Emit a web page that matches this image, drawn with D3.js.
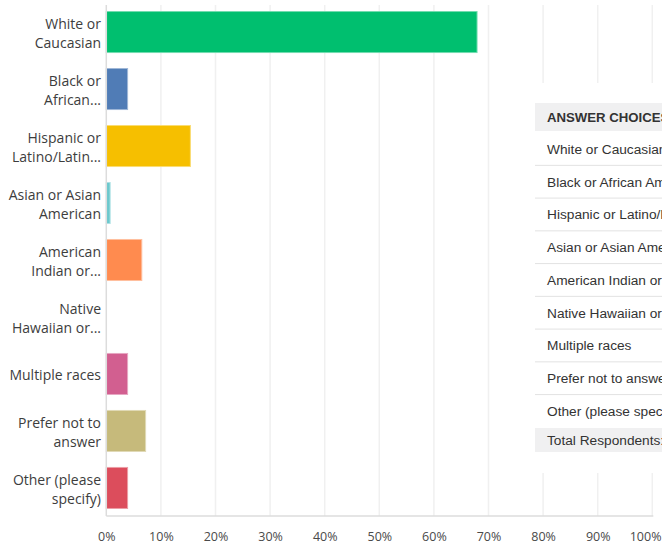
<!DOCTYPE html>
<html>
<head>
<meta charset="utf-8">
<script src="https://cdn.jsdelivr.net/npm/d3@7"></script>
<style>
  html, body { margin: 0; padding: 0; background: #fff; overflow: hidden; }
  svg { display: block; }
</style>
</head>
<body>
<svg id="chart" width="662" height="546"></svg>
<script>
// Answer choices (full wording, shown in the table)
const categories = [
  "White or Caucasian",
  "Black or African American",
  "Hispanic or Latino/Latina",
  "Asian or Asian American",
  "American Indian or Alaska Native",
  "Native Hawaiian or Pacific Islander",
  "Multiple races",
  "Prefer not to answer",
  "Other (please specify)"
];

// Shortened axis labels, one entry per line
const axisLabels = [
  ["White or", "Caucasian"],
  ["Black or", "African..."],
  ["Hispanic or", "Latino/Latin..."],
  ["Asian or Asian", "American"],
  ["American", "Indian or..."],
  ["Native", "Hawaiian or..."],
  ["Multiple races"],
  ["Prefer not to", "answer"],
  ["Other (please", "specify)"]
];

// Share of respondents, percent
const percents = [67.9, 3.9, 15.4, 0.7, 6.5, 0, 3.9, 7.2, 3.9];

const barColors = [
  "#00bf6f", "#507cb6", "#f6bf00", "#6bc8cd", "#ff8b4f",
  "#7d5e90", "#d25f90", "#c6ba7b", "#dc4d5c"
];

const xTicks = [0, 10, 20, 30, 40, 50, 60, 70, 80, 90, 100];
const tableHeader = "ANSWER CHOICES";
const totalLabel = "Total Respondents:";

const W = 662;
const svg = d3.select("#chart");

const x = d3.scaleLinear().domain([0, 100]).range([106.3, 652.3]);
const y = d3.scaleBand().domain(categories).range([2, 518])
  .paddingInner(0.28).paddingOuter(0.167);

const plotTop = 5, plotBottom = 516;

// vertical gridlines
svg.append("g").selectAll("line")
  .data(xTicks.slice(1))
  .join("line")
  .attr("x1", d => x(d)).attr("x2", d => x(d))
  .attr("y1", plotTop).attr("y2", plotBottom)
  .attr("stroke", "#f0f0f0").attr("stroke-width", 1.5);

// bars
svg.append("g").selectAll("rect")
  .data(categories.map((c, i) => ({ c, v: percents[i], color: barColors[i] })))
  .join("rect")
  .attr("x", x(0))
  .attr("y", d => y(d.c))
  .attr("width", d => Math.max(0, x(d.v) - x(0)))
  .attr("height", y.bandwidth())
  .attr("fill", d => d.color)
  .attr("stroke", d => d.v > 0 ? d3.interpolateRgb(d.color, "#fff")(0.45) : "none")
  .attr("stroke-width", 1);

// axis frame: left and bottom
svg.append("line")
  .attr("x1", x(0)).attr("x2", x(0))
  .attr("y1", plotTop).attr("y2", plotBottom)
  .attr("stroke", "#dcdcdc").attr("stroke-width", 1.5);
svg.append("line")
  .attr("x1", x(0)).attr("x2", x(100) + 1)
  .attr("y1", plotBottom).attr("y2", plotBottom)
  .attr("stroke", "#dcdcdc").attr("stroke-width", 1.5);

// category labels
const lab = svg.append("g")
  .attr("font-family", "'Open Sans', sans-serif")
  .attr("font-size", "14px")
  .attr("fill", "#3d3d3d")
  .attr("text-anchor", "end");
categories.forEach((c, i) => {
  const lines = axisLabels[i];
  const cy = y(c) + y.bandwidth() / 2 + 1.5;
  const lh = 18.5;
  const t = lab.append("text").attr("x", 101);
  lines.forEach((ln, j) => {
    t.append("tspan")
      .attr("x", 101)
      .attr("y", cy + (j - (lines.length - 1) / 2) * lh)
      .attr("dy", "0.35em")
      .text(ln);
  });
});

// x tick labels
const xAxis = d3.axisBottom(x).tickValues(xTicks).tickFormat(d => d + "%").tickSize(0).tickPadding(0);
const gx = svg.append("g").attr("transform", `translate(0, 537)`).call(xAxis);
gx.select(".domain").remove();
gx.selectAll("text")
  .attr("dy", "0.35em")
  .attr("font-family", "'Open Sans', sans-serif")
  .attr("font-size", "12.5px")
  .attr("fill", "#4a4a4a");
// keep the last tick label inside the frame
gx.selectAll(".tick").filter(d => d === 100).select("text")
  .attr("text-anchor", "end")
  .attr("x", W - 1 - x(100));

// summary table card
const card = svg.append("g");
card.append("rect")
  .attr("x", 520).attr("y", 83).attr("width", W - 520).attr("height", 390)
  .attr("fill", "#fff");

const tx = 535, textX = 547;
const headerY = 103, headerH = 28;
const rowTop = 132.6, rowH = 32.75;
const tableFont = "'Liberation Sans', Arial, sans-serif";

card.append("rect")
  .attr("x", tx).attr("y", headerY).attr("width", W - tx).attr("height", headerH)
  .attr("fill", "#f0f0f1");
card.append("text")
  .attr("x", textX).attr("y", headerY + headerH / 2).attr("dy", "0.35em")
  .attr("font-family", tableFont).attr("font-size", "13.2px").attr("font-weight", "bold")
  .attr("fill", "#333").text(tableHeader);

categories.forEach((c, i) => {
  const top = rowTop + i * rowH;
  card.append("text")
    .attr("x", textX).attr("y", top + rowH / 2).attr("dy", "0.35em")
    .attr("font-family", tableFont).attr("font-size", "13.7px")
    .attr("fill", "#333").text(c);
  if (i < categories.length - 1) {
    card.append("line")
      .attr("x1", tx).attr("x2", W)
      .attr("y1", top + rowH).attr("y2", top + rowH)
      .attr("stroke", "#e2e2e2").attr("stroke-width", 1);
  }
});

const totalTop = 428;
card.append("rect")
  .attr("x", tx).attr("y", totalTop).attr("width", W - tx).attr("height", 24)
  .attr("fill", "#f0f0f1");
card.append("text")
  .attr("x", textX).attr("y", totalTop + 12).attr("dy", "0.35em")
  .attr("font-family", tableFont).attr("font-size", "13.7px")
  .attr("fill", "#333").text(totalLabel);
</script>
</body>
</html>
